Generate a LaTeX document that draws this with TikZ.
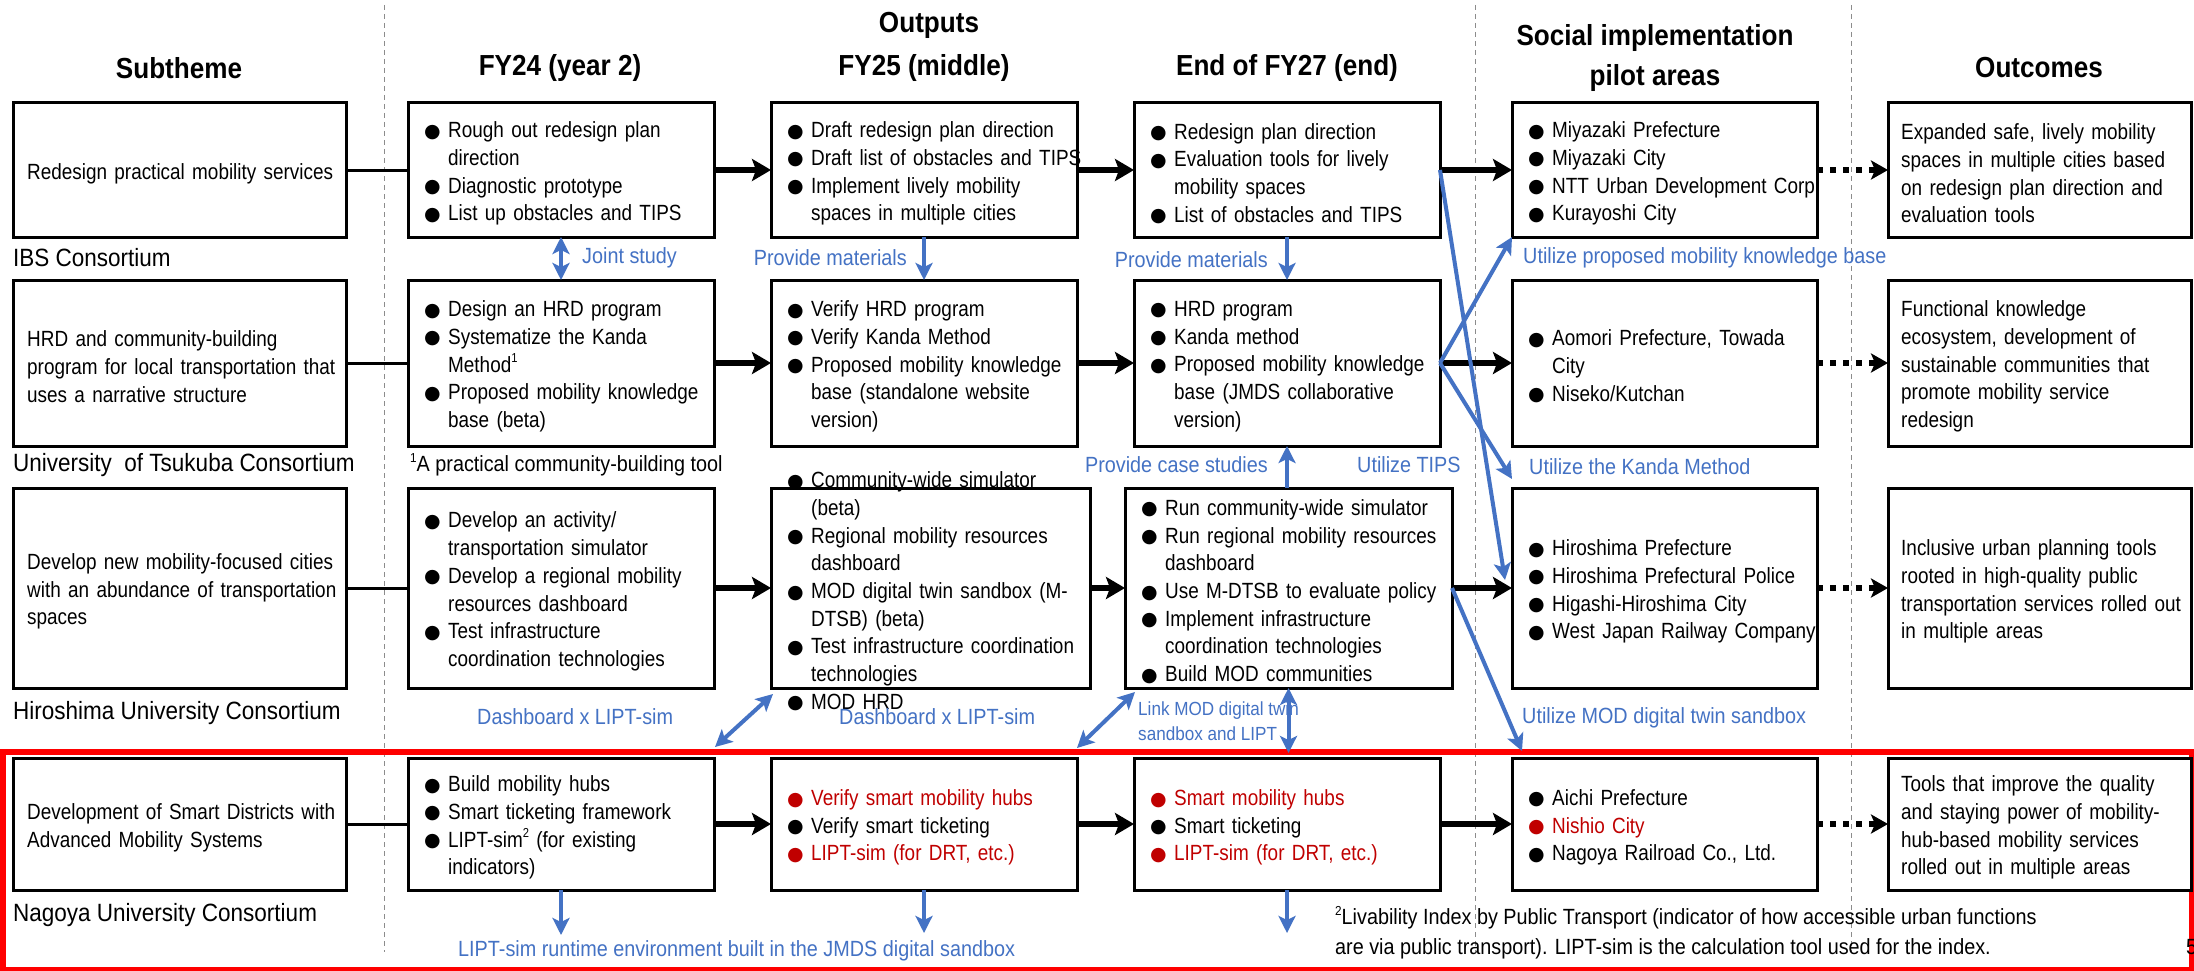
\documentclass[tikz,border=0pt]{standalone}
\usepackage{fontspec}
\setmainfont{Liberation Sans}[FakeStretch=0.9]
\newfontfamily\bodyfont{Liberation Sans}[FakeStretch=0.86]
\newfontfamily\symfont{DejaVu Sans}
\usetikzlibrary{arrows.meta,calc}
\definecolor{lnkblue}{HTML}{4472C4}
\definecolor{hired}{HTML}{C00000}
\definecolor{frred}{HTML}{FF0000}
\setlength{\parindent}{0pt}
% bullet, continuation indent, superscript marker
\newcommand\bu{\makebox[24pt][l]{\raisebox{0.5pt}{\symfont\fontsize{19}{19}\selectfont ●}}}
\newcommand\ct{\hspace*{24pt}}
\newcommand\sups[1]{\raisebox{0.42em}{\fontsize{13}{13}\selectfont #1}}
\newcommand\rd[1]{\leavevmode\textcolor{hired}{#1}}

\tikzset{
  box/.style={draw, line width=3pt, fill=white, inner sep=0pt, outer sep=0pt, anchor=north west},
  body/.style={font=\bodyfont\fontsize{22}{27.7}\selectfont, align=left, inner sep=0pt, text width=360pt, anchor=west, yshift=-3.5pt},
  hdr/.style={font=\bfseries\fontsize{29}{40}\selectfont, align=center, inner sep=0pt},
  cons/.style={font=\fontsize{25}{30}\selectfont, inner sep=0pt, anchor=west},
  note/.style={font=\fontsize{22}{30}\selectfont, inner sep=0pt, anchor=west, align=left},
  blab/.style={text=lnkblue, font=\fontsize{22}{26}\selectfont, inner sep=0pt},
  slab/.style={text=lnkblue, font=\fontsize{19}{25}\selectfont, inner sep=0pt, align=left, anchor=west},
  link/.style={line width=3pt},
  fwd/.style={line width=6pt, -{Stealth[length=19pt,width=22pt,inset=4pt]}},
  dotfwd/.style={line width=6pt, dash pattern=on 6pt off 7pt, -{Stealth[length=17pt,width=19pt,inset=4pt]}},
  bto/.style={draw=lnkblue, line width=4pt, -{Stealth[length=17pt,width=17pt,inset=4pt]}},
  bboth/.style={draw=lnkblue, line width=4pt, {Stealth[length=17pt,width=17pt,inset=4pt]}-{Stealth[length=17pt,width=17pt,inset=4pt]}},
  sepline/.style={draw=black!45, line width=1pt, dash pattern=on 5pt off 4pt},
  frame/.style={draw=frred, line width=6pt},
}

\begin{document}
\begin{tikzpicture}[x=1pt, y=-1pt]
\useasboundingbox (0,0) rectangle (2194,971);
\fill[white] (0,0) rectangle (2194,971);

% column separators
\foreach \x in {384,1475,1851} \draw[sepline] (\x,5) -- (\x,952);

% frame round the Nagoya row
\draw[frame] (3,752) rectangle (2192,970);

% headings
\node[hdr] (hsub) at (179,68) {Subtheme};
\node[hdr] (hfy24) at (560,68) {FY24 (year 2)};
\node[hdr] (hout) at (929,25) {Outputs};
\node[hdr] (hfy25) at (924,68) {FY25 (middle)};
\node[hdr] (hfy27) at (1287,68) {End of FY27 (end)};
\node[hdr] (hpil) at (1655,58) {Social implementation\\pilot areas};
\node[hdr] (hres) at (2039,68) {Outcomes};

% boxes: row 1
\node[box, minimum width=333pt, minimum height=134pt] (s1) at (13,103) {};
\node[box, minimum width=306pt, minimum height=134pt] (a1) at (408,103) {};
\node[box, minimum width=306pt, minimum height=134pt] (b1) at (771,103) {};
\node[box, minimum width=306pt, minimum height=134pt] (c1) at (1134,103) {};
\node[box, minimum width=305pt, minimum height=134pt] (p1) at (1512,103) {};
\node[box, minimum width=303pt, minimum height=134pt] (o1) at (1888,103) {};
% row 2
\node[box, minimum width=333pt, minimum height=166pt] (s2) at (13,280) {};
\node[box, minimum width=306pt, minimum height=166pt] (a2) at (408,280) {};
\node[box, minimum width=306pt, minimum height=166pt] (b2) at (771,280) {};
\node[box, minimum width=306pt, minimum height=166pt] (c2) at (1134,280) {};
\node[box, minimum width=305pt, minimum height=166pt] (p2) at (1512,280) {};
\node[box, minimum width=303pt, minimum height=166pt] (o2) at (1888,280) {};
% row 3
\node[box, minimum width=333pt, minimum height=200pt] (s3) at (13,488) {};
\node[box, minimum width=306pt, minimum height=200pt] (a3) at (408,488) {};
\node[box, minimum width=319pt, minimum height=200pt] (b3) at (771,488) {};
\node[box, minimum width=327pt, minimum height=200pt] (c3) at (1125,488) {};
\node[box, minimum width=305pt, minimum height=200pt] (p3) at (1512,488) {};
\node[box, minimum width=303pt, minimum height=200pt] (o3) at (1888,488) {};
% row 4
\node[box, minimum width=333pt, minimum height=132pt] (s4) at (13,758) {};
\node[box, minimum width=306pt, minimum height=132pt] (a4) at (408,758) {};
\node[box, minimum width=306pt, minimum height=132pt] (b4) at (771,758) {};
\node[box, minimum width=306pt, minimum height=132pt] (c4) at (1134,758) {};
\node[box, minimum width=305pt, minimum height=132pt] (p4) at (1512,758) {};
\node[box, minimum width=303pt, minimum height=132pt] (o4) at (1888,758) {};

% subtheme texts
\node[body] (ts1) at ([xshift=14pt]s1.west) {Redesign practical mobility services};
\node[body] (ts2) at ([xshift=14pt]s2.west) {HRD and community-building\\program for local transportation that\\uses a narrative structure};
\node[body] (ts3) at ([xshift=14pt]s3.west) {Develop new mobility-focused cities\\with an abundance of transportation\\spaces};
\node[body] (ts4) at ([xshift=14pt]s4.west) {Development of Smart Districts with\\Advanced Mobility Systems};

% FY24 texts
\node[body] (ta1) at ([xshift=16pt]a1.west) {\bu Rough out redesign plan\\\ct direction\\\bu Diagnostic prototype\\\bu List up obstacles and TIPS};
\node[body] (ta2) at ([xshift=16pt]a2.west) {\bu Design an HRD program\\\bu Systematize the Kanda\\\ct Method\sups{1}\\\bu Proposed mobility knowledge\\\ct base (beta)};
\node[body] (ta3) at ([xshift=16pt]a3.west) {\bu Develop an activity/\\\ct transportation simulator\\\bu Develop a regional mobility\\\ct resources dashboard\\\bu Test infrastructure\\\ct coordination technologies};
\node[body] (ta4) at ([xshift=16pt]a4.west) {\bu Build mobility hubs\\\bu Smart ticketing framework\\\bu LIPT-sim\sups{2} (for existing\\\ct indicators)};

% FY25 texts
\node[body] (tb1) at ([xshift=16pt]b1.west) {\bu Draft redesign plan direction\\\bu Draft list of obstacles and TIPS\\\bu Implement lively mobility\\\ct spaces in multiple cities};
\node[body] (tb2) at ([xshift=16pt]b2.west) {\bu Verify HRD program\\\bu Verify Kanda Method\\\bu Proposed mobility knowledge\\\ct base (standalone website\\\ct version)};
\node[body] (tb3) at ([xshift=16pt]b3.west) {\bu Community-wide simulator\\\ct (beta)\\\bu Regional mobility resources\\\ct dashboard\\\bu MOD digital twin sandbox (M-\\\ct DTSB) (beta)\\\bu Test infrastructure coordination\\\ct technologies\\\bu MOD HRD};
\node[body] (tb4) at ([xshift=16pt]b4.west) {\rd{\bu Verify smart mobility hubs}\\\bu Verify smart ticketing\\\rd{\bu LIPT-sim (for DRT, etc.)}};

% FY27 texts
\node[body] (tc1) at ([xshift=16pt]c1.west) {\bu Redesign plan direction\\\bu Evaluation tools for lively\\\ct mobility spaces\\\bu List of obstacles and TIPS};
\node[body] (tc2) at ([xshift=16pt]c2.west) {\bu HRD program\\\bu Kanda method\\\bu Proposed mobility knowledge\\\ct base (JMDS collaborative\\\ct version)};
\node[body] (tc3) at ([xshift=16pt]c3.west) {\bu Run community-wide simulator\\\bu Run regional mobility resources\\\ct dashboard\\\bu Use M-DTSB to evaluate policy\\\bu Implement infrastructure\\\ct coordination technologies\\\bu Build MOD communities};
\node[body] (tc4) at ([xshift=16pt]c4.west) {\rd{\bu Smart mobility hubs}\\\bu Smart ticketing\\\rd{\bu LIPT-sim (for DRT, etc.)}};

% pilot area texts
\node[body] (tp1) at ([xshift=16pt]p1.west) {\bu Miyazaki Prefecture\\\bu Miyazaki City\\\bu NTT Urban Development Corp.\\\bu Kurayoshi City};
\node[body] (tp2) at ([xshift=16pt]p2.west) {\bu Aomori Prefecture, Towada\\\ct City\\\bu Niseko/Kutchan};
\node[body] (tp3) at ([xshift=16pt]p3.west) {\bu Hiroshima Prefecture\\\bu Hiroshima Prefectural Police\\\bu Higashi-Hiroshima City\\\bu West Japan Railway Company};
\node[body] (tp4) at ([xshift=16pt]p4.west) {\bu Aichi Prefecture\\\rd{\bu Nishio City}\\\bu Nagoya Railroad Co., Ltd.};

% outcome texts
\node[body] (to1) at ([xshift=13pt]o1.west) {Expanded safe, lively mobility\\spaces in multiple cities based\\on redesign plan direction and\\evaluation tools};
\node[body] (to2) at ([xshift=13pt]o2.west) {Functional knowledge\\ecosystem, development of\\sustainable communities that\\promote mobility service\\redesign};
\node[body] (to3) at ([xshift=13pt]o3.west) {Inclusive urban planning tools\\rooted in high-quality public\\transportation services rolled out\\in multiple areas};
\node[body] (to4) at ([xshift=13pt]o4.west) {Tools that improve the quality\\and staying power of mobility-\\hub-based mobility services\\rolled out in multiple areas};

% consortium labels
\node[cons] (k1) at (13,258) {IBS Consortium};
\node[cons] (k2) at (13,465) {University~ of Tsukuba Consortium};
\node[cons] (k3) at (13,713) {Hiroshima University Consortium};
\node[cons] (k4) at (13,915) {Nagoya University Consortium};

% footnotes
\node[note] (fn1) at (410,465) {\sups{1}A practical community-building tool};
\node[note] (fn2) at (1335,933) {\sups{2}Livability Index by Public Transport (indicator of how accessible urban functions\\are via public transport). LIPT-sim is the calculation tool used for the index.};
\node[note] (pg) at (2186,947) {5};

% subtheme to FY24 links
\foreach \r in {1,2,3,4} \draw[link] (s\r.east) -- (a\r.west);
% progression arrows
\foreach \r in {1,2,3,4} {
  \draw[fwd] (a\r.east) -- (b\r.west);
  \draw[fwd] (b\r.east) -- (c\r.west);
  \draw[fwd] (c\r.east) -- (p\r.west);
  \draw[dotfwd] (p\r.east) -- (o\r.west);
}

% free ends of blue arrows
\coordinate (tipT) at (1505,580);
\coordinate (tipK) at ([yshift=9pt]p3.north west);
\coordinate (tipM) at (1522,751);
\coordinate (d1) at (561,935);
\coordinate (d2) at (924,933);
\coordinate (d3) at (1287,933);

% blue relations
\draw[bboth] (a1.south) -- (a2.north);
\draw[bto] (b1.south) -- (b2.north);
\draw[bto] (c1.south) -- (c2.north);
\draw[bto] (c2.south |- c3.north) -- (c2.south);
\draw[bto] (c1.east) -- (tipT);
\draw[bto] (c2.east) -- (p1.south west);
\draw[bto] (c2.east) -- (tipK);
\draw[bto] (c3.east) -- (tipM);
\draw[bboth] ([shift={(1pt,11pt)}]a4.north east) -- ([shift={(2pt,-6pt)}]b3.south west);
\draw[bboth] ([yshift=10pt]b4.north east) -- ([shift={(10pt,-4pt)}]c3.south west);
\draw[bboth] (c3.south) -- ([yshift=5pt]c3.south |- c4.north);
\draw[bto] (a4.south) -- (d1);
\draw[bto] (b4.south) -- (d2);
\draw[bto] (c4.south) -- (d3);

% blue labels
\node[blab, anchor=west] (lj) at (582,258) {Joint study};
\node[blab, anchor=east] (lm1) at (907,258) {Provide materials};
\node[blab, anchor=east] (lm2) at (1268,260) {Provide materials};
\node[blab, anchor=west] (lkb) at (1523,258) {Utilize proposed mobility knowledge base};
\node[blab, anchor=east] (lcs) at (1268,465) {Provide case studies};
\node[blab, anchor=west] (ltp) at (1357,465) {Utilize TIPS};
\node[blab, anchor=west] (lkm) at (1529,467) {Utilize the Kanda Method};
\node[blab, anchor=west] (ld1) at (477,717) {Dashboard x LIPT-sim};
\node[blab, anchor=west] (ld2) at (839,717) {Dashboard x LIPT-sim};
\node[slab] (llk) at (1138,721) {Link MOD digital twin\\sandbox and LIPT};
\node[blab, anchor=west] (ltw) at (1522,718) {Utilize MOD digital twin sandbox};
\node[blab, anchor=west] (lrt) at (458,951) {LIPT-sim runtime environment built in the JMDS digital sandbox};
\end{tikzpicture}
\end{document}
